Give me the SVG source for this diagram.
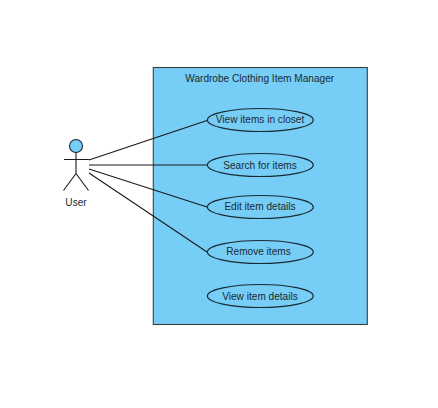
<svg xmlns="http://www.w3.org/2000/svg" width="438" height="408" viewBox="0 0 438 408">
<style>
text{font-family:"Liberation Sans",Arial,sans-serif;font-size:10.1px;fill:#1a2a33;text-anchor:middle}
.s{stroke:#1a1a1a;stroke-width:1.1;fill:none}
.u{fill:#76cdf6;stroke:#1a2a33;stroke-width:1.1}
.b{fill:#76cdf6;stroke:#3a3f45;stroke-width:1.1}
</style>
<rect width="438" height="408" fill="#fff"/>
<g id="system"><rect class="b" x="153.300" y="67.500" width="214" height="257"/><text x="259.700" y="82">Wardrobe Clothing Item Manager</text></g>
<g id="actor-user">
<circle class="u" cx="76" cy="146" r="6.500"/>
<path class="s" d="M76 152.500V173.500M64 159.500H89M76 173.500L63.500 190.500M76 173.500L88.500 190.500"/>
<text x="76" y="205.500">User</text>
</g>
<g id="connectors" class="s">
<path d="M89 160L207 120.500"/>
<path d="M89 165H207"/>
<path d="M89 169L207 207"/>
<path d="M89 173L207 252"/>
</g>
<g id="uc-view-closet"><ellipse class="u" cx="260.300" cy="120" rx="53" ry="11.500"/><text x="260" y="123">View items in closet</text></g>
<g id="uc-search"><ellipse class="u" cx="260.300" cy="165" rx="53" ry="11.500"/><text x="260" y="168.500">Search for items</text></g>
<g id="uc-edit"><ellipse class="u" cx="260.300" cy="207" rx="53" ry="11.500"/><text x="260" y="210">Edit item details</text></g>
<g id="uc-remove"><ellipse class="u" cx="260.300" cy="252" rx="53" ry="11.500"/><text x="258.500" y="255">Remove items</text></g>
<g id="uc-view-details"><ellipse class="u" cx="260.300" cy="296" rx="53" ry="11.500"/><text x="260" y="299.500">View item details</text></g>
</svg>
